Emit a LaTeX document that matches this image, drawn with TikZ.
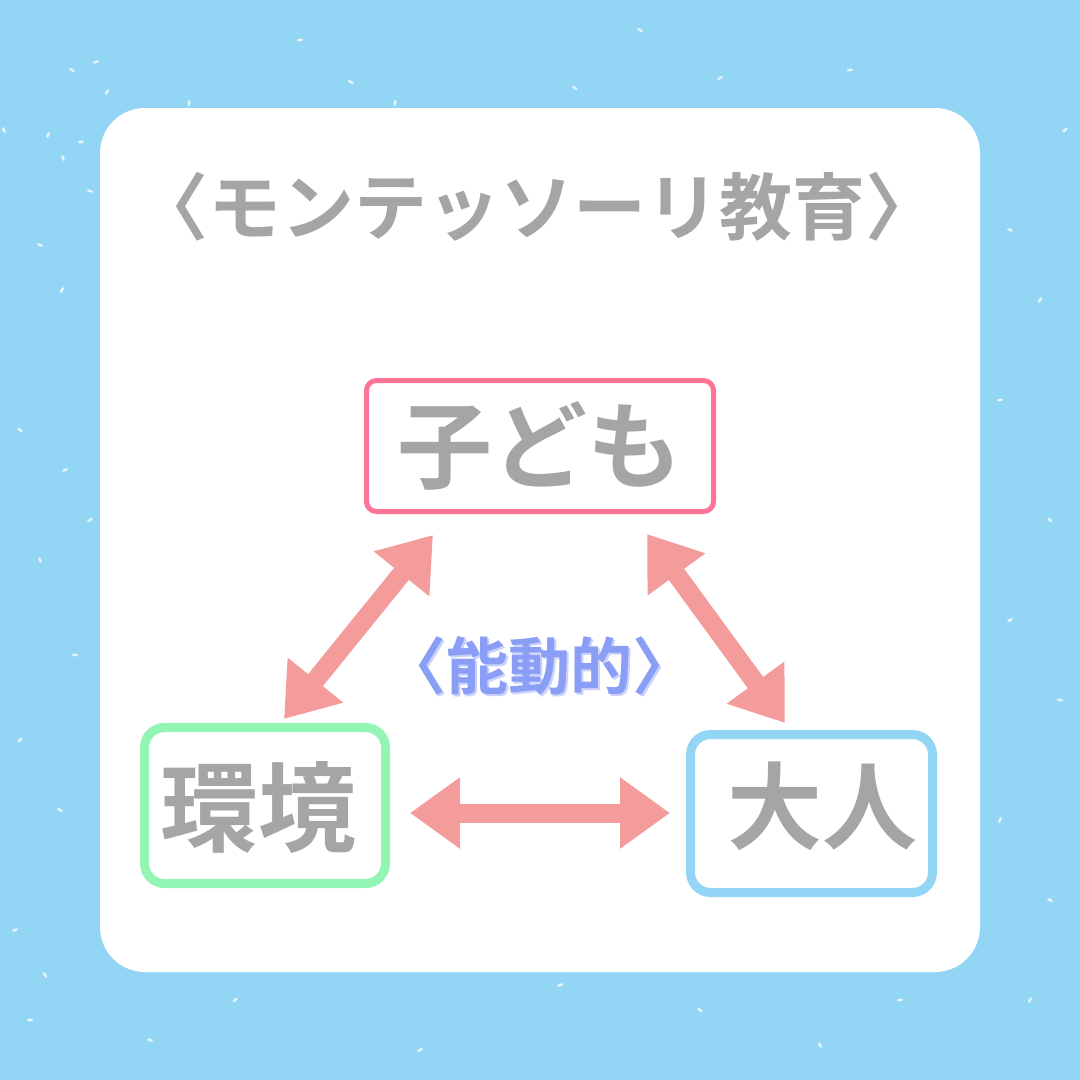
\documentclass[tikz,border=0pt]{standalone}
\usepackage{fontspec}
\newfontfamily\jp{Noto Sans CJK JP}[BoldFont={Noto Sans CJK JP Bold}]
\usetikzlibrary{arrows.meta}
\definecolor{bgblue}{HTML}{93D5F5}
\definecolor{speck}{HTML}{E4F4FB}
\definecolor{txtgray}{HTML}{A5A5A5}
\definecolor{arr}{HTML}{F49B9B}
\definecolor{pinkb}{HTML}{FF7496}
\definecolor{greenb}{HTML}{92F5B4}
\definecolor{blueb}{HTML}{93D5F5}
\definecolor{actblue}{HTML}{8A9EF5}
\definecolor{actshadow}{HTML}{CAD2FB}
\begin{document}
\begin{tikzpicture}[x=1pt,y=-1pt,
  box/.style={draw, fill=white, inner sep=0pt, text=txtgray,
    font=\jp\bfseries\fontsize{95}{95}\selectfont},
  twoway/.style={draw=arr, line width=19pt,
    {Triangle[length=50pt,width=68pt]}-{Triangle[length=50pt,width=68pt]}}]
% background
\fill[bgblue] (0,0) rectangle (1080,1080);
\useasboundingbox (0,0) rectangle (1080,1080);
\foreach \x/\y/\a in {72/70/-30, 96/62/20, 107/92/60, 189/103/80, 4/130/-60, 48/135/70,
  81/142/10, 63/158/-70, 90/191/-20, 351/82/-30, 395/103/80, 575/88/-40, 720/78/30,
  850/70/10, 40/245/-20, 62/290/60, 20/430/-40, 65/470/20, 40/560/-70, 90/520/30,
  75/655/-10, 20/740/50, 60/810/-30, 15/930/20, 45/975/-60, 30/1020/10, 235/1000/40,
  1010/230/-20, 1040/300/60, 1000/400/10, 1050/520/-50, 1010/620/30, 1060/700/-10,
  1000/820/70, 1050/900/-30, 560/985/20, 700/1010/-40, 900/1000/10, 1030/1000/60,
  150/1040/-20, 420/1050/30, 820/1045/-60, 1065/130/40, 300/40/10, 640/30/-30}
  \fill[speck, rotate around={\a:(\x,\y)}] (\x,\y) ellipse [x radius=3.2pt, y radius=1.4pt];
% white panel
\fill[white, rounded corners=45pt] (100,108) rectangle (980,972);
% title
\node[text=txtgray, font=\jp\bfseries\fontsize{73}{73}\selectfont] (title) at (537,207)
  {〈モンテッソーリ教育〉};
% boxes
\node[box, draw=pinkb, line width=5pt, rounded corners=10pt,
  minimum width=347pt, minimum height=131pt] (child) at (540,446) {子ども};
\node[box, draw=greenb, line width=9pt, rounded corners=20pt,
  minimum width=241pt, minimum height=156pt] (env) at (265,805.5) {};
\node[text=txtgray, font=\jp\bfseries\fontsize{98}{98}\selectfont] (envt) at (258,808) {環境};
\node[box, draw=blueb, line width=9pt, rounded corners=20pt,
  minimum width=242pt, minimum height=158pt] (adult) at (811.5,813.5) {};
\node[text=txtgray, font=\jp\bfseries\fontsize{95}{95}\selectfont] (adultt) at (822,806) {大人};
% center label with soft shadow
\node[text=actblue, font=\jp\bfseries\fontsize{62}{62}\selectfont] (act) at (539,667)
  {\rlap{\kern2.5pt\raisebox{-2.5pt}{\color{actshadow}〈能動的〉}}〈能動的〉};
% arrow end points
\coordinate (la) at (433,535);
\coordinate (lb) at (284,719);
\coordinate (ra) at (647,534);
\coordinate (rb) at (785,723);
\coordinate (ha) at (410,813);
\coordinate (hb) at (670,813);
\draw[twoway] (lb) -- (la);
\draw[twoway] (ra) -- (rb);
\draw[twoway] (ha) -- (hb);
\end{tikzpicture}
\end{document}
